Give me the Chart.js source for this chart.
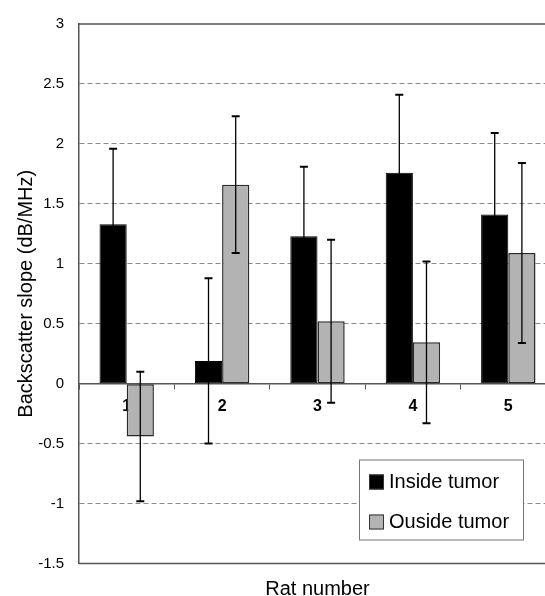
<!DOCTYPE html>
<html>
<head>
<meta charset="utf-8">
<script src="https://cdn.jsdelivr.net/npm/chart.js@4.4.0/dist/chart.umd.min.js"></script>
<style>
  html, body { margin: 0; padding: 0; background: #fff; overflow: hidden; }
  #wrap { width: 545px; height: 596px; overflow: hidden; }
</style>
</head>
<body>
<div id="wrap"><canvas id="chart" width="556" height="605"></canvas></div>
<script>
// rat number on x, backscatter slope (dB/MHz) on y
const rats = ['1', '2', '3', '4', '5'];
const insideSlope = [1.33, 0.19, 1.23, 1.76, 1.41];
const insideErr = [0.63, 0.69, 0.58, 0.65, 0.68];
const outsideSlope = [-0.44, 1.66, 0.52, 0.345, 1.09];
const outsideErr = [0.54, 0.57, 0.68, 0.675, 0.75];
const yTicks = [-1.5, -1, -0.5, 0, 0.5, 1, 1.5, 2, 2.5, 3];

const FONT = '"Liberation Sans", Arial, sans-serif';

// error bars, drawn over the bars
const errorBars = {
  id: 'errorBars',
  afterDatasetsDraw(chart) {
    const ctx = chart.ctx;
    const y = chart.scales.y;
    chart.data.datasets.forEach((ds, i) => {
      const meta = chart.getDatasetMeta(i);
      meta.data.forEach((bar, j) => {
        const v = ds.data[j], e = ds.errors[j];
        const top = y.getPixelForValue(v + e);
        const bot = y.getPixelForValue(v - e);
        ctx.save();
        ctx.strokeStyle = '#000';
        ctx.lineWidth = 1.3;
        ctx.beginPath();
        ctx.moveTo(bar.x, top);
        ctx.lineTo(bar.x, bot);
        ctx.stroke();
        ctx.lineWidth = 2;
        ctx.beginPath();
        ctx.moveTo(bar.x - 4, top); ctx.lineTo(bar.x + 4, top);
        ctx.moveTo(bar.x - 4, bot); ctx.lineTo(bar.x + 4, bot);
        ctx.stroke();
        ctx.restore();
      });
    });
  }
};

// top and bottom frame lines (right side is cut off in the original)
const frame = {
  id: 'frame',
  beforeDatasetsDraw(chart) {
    const { ctx, chartArea } = chart;
    ctx.save();
    ctx.strokeStyle = '#555';
    ctx.lineWidth = 1.5;
    ctx.beginPath();
    ctx.moveTo(chartArea.left, chartArea.top);
    ctx.lineTo(chartArea.right, chartArea.top);
    ctx.moveTo(chartArea.left, chartArea.bottom);
    ctx.lineTo(chartArea.right, chartArea.bottom);
    ctx.stroke();
    ctx.restore();
  }
};

// boxed legend inside the plot, lower right
const boxLegend = {
  id: 'boxLegend',
  afterDraw(chart) {
    const { ctx, chartArea } = chart;
    const x = chartArea.right - 197, y = chartArea.bottom - 104;
    const w = 164, h = 80;
    ctx.save();
    ctx.fillStyle = '#fff';
    ctx.fillRect(x, y, w, h);
    ctx.strokeStyle = '#777';
    ctx.lineWidth = 1;
    ctx.strokeRect(x + 0.5, y + 0.5, w, h);
    ctx.font = '20px ' + FONT;
    ctx.textBaseline = 'middle';
    chart.data.datasets.forEach((ds, i) => {
      const cy = y + 22 + i * 40;
      ctx.fillStyle = ds.backgroundColor;
      ctx.fillRect(x + 10, cy - 7, 15, 15);
      ctx.strokeStyle = '#333';
      ctx.strokeRect(x + 10.5, cy - 6.5, 14, 14);
      ctx.fillStyle = '#000';
      ctx.fillText(ds.label, x + 30, cy + 1);
    });
    ctx.restore();
  }
};

new Chart(document.getElementById('chart'), {
  type: 'bar',
  data: {
    labels: rats,
    datasets: [
      {
        label: 'Inside tumor',
        data: insideSlope,
        errors: insideErr,
        backgroundColor: '#000',
        borderColor: '#000',
        borderWidth: 1,
        borderSkipped: false,
        categoryPercentage: 0.57,
        barPercentage: 1.0
      },
      {
        label: 'Ouside tumor',
        data: outsideSlope,
        errors: outsideErr,
        backgroundColor: '#b3b3b3',
        borderColor: '#2a2a2a',
        borderWidth: 1.5,
        borderSkipped: false,
        categoryPercentage: 0.57,
        barPercentage: 1.0
      }
    ]
  },
  options: {
    responsive: false,
    animation: false,
    devicePixelRatio: 1,
    layout: { padding: { left: 0, right: 0, top: 17, bottom: 3.5 } },
    plugins: {
      legend: { display: false },
      tooltip: { enabled: false }
    },
    scales: {
      x: {
        type: 'category',
        position: { y: 0 },
        offset: true,
        grid: { offset: true, drawOnChartArea: false, drawTicks: true, tickLength: 5, color: '#555' },
        border: { display: true, color: '#555', width: 1.5 },
        ticks: { color: '#000', font: { family: FONT, size: 16, weight: 'bold' }, padding: 8 }
      },
      xt: {
        type: 'category',
        axis: 'x',
        position: 'bottom',
        grid: { display: false, drawTicks: false },
        border: { display: false },
        ticks: { display: false },
        title: {
          display: true,
          text: 'Rat number',
          color: '#000',
          font: { family: FONT, size: 20 },
          padding: { top: 14, bottom: 0 }
        }
      },
      y: {
        min: -1.5,
        max: 3,
        afterBuildTicks: s => { s.ticks = yTicks.map(v => ({ value: v })); },
        afterFit: s => { s.width = 79; },
        grid: {
          drawTicks: false,
          lineWidth: 1,
          color: c => (c.tick && [0, 3, -1.5].includes(c.tick.value)) ? 'rgba(0,0,0,0)' : '#8a8a8a'
        },
        border: { display: true, color: '#555', width: 1.5, dash: [5, 3] },
        ticks: {
          color: '#000',
          font: { family: FONT, size: 15 },
          padding: 15,
          callback: v => String(v)
        },
        title: {
          display: true,
          text: 'Backscatter slope (dB/MHz)',
          color: '#000',
          font: { family: FONT, size: 20 },
          padding: { top: 14, bottom: 0 }
        }
      }
    }
  },
  plugins: [frame, errorBars, boxLegend]
});
</script>
</body>
</html>
